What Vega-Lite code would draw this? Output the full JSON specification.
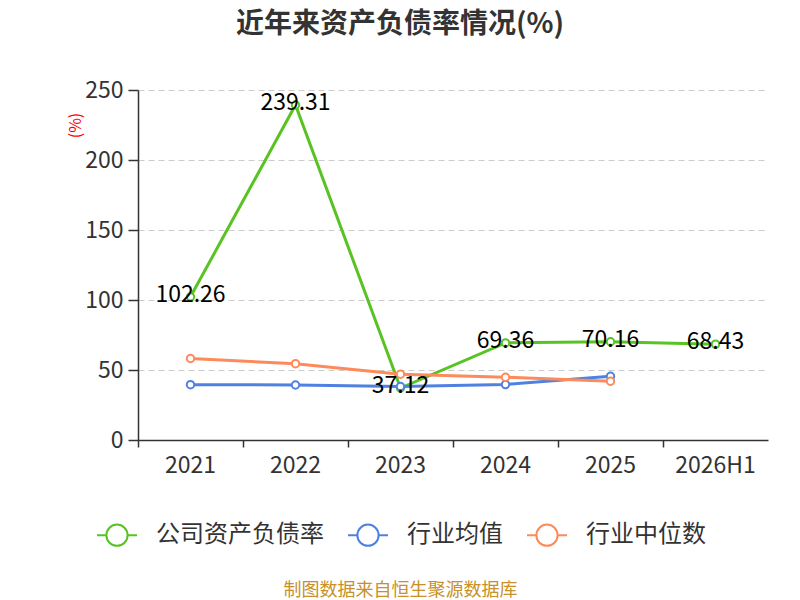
{
  "$schema": "https://vega.github.io/schema/vega-lite/v6.json",
  "width": 630,
  "height": 350,
  "autosize": {"type": "none"},
  "padding": {"left": 138, "top": 90, "right": 32, "bottom": 160},
  "config": {
    "font": "Noto Sans CJK SC",
    "view": {"stroke": null}
  },
  "title": {
    "text": "近年来资产负债率情况(%)",
    "fontSize": 28,
    "fontWeight": "bold",
    "color": "#333333",
    "anchor": "middle",
    "frame": "group",
    "dx": -53,
    "offset": 40
  },
  "data": {
    "values": [
      {"year": "2021", "series": "公司资产负债率", "value": 102.26},
      {"year": "2022", "series": "公司资产负债率", "value": 239.31},
      {"year": "2023", "series": "公司资产负债率", "value": 37.12},
      {"year": "2024", "series": "公司资产负债率", "value": 69.36},
      {"year": "2025", "series": "公司资产负债率", "value": 70.16},
      {"year": "2026H1", "series": "公司资产负债率", "value": 68.43},
      {"year": "2021", "series": "行业均值", "value": 39.5},
      {"year": "2022", "series": "行业均值", "value": 39.3},
      {"year": "2023", "series": "行业均值", "value": 38.2},
      {"year": "2024", "series": "行业均值", "value": 39.6},
      {"year": "2025", "series": "行业均值", "value": 45.5},
      {"year": "2021", "series": "行业中位数", "value": 58.2},
      {"year": "2022", "series": "行业中位数", "value": 54.5},
      {"year": "2023", "series": "行业中位数", "value": 47.0},
      {"year": "2024", "series": "行业中位数", "value": 44.8},
      {"year": "2025", "series": "行业中位数", "value": 42.0}
    ]
  },
  "encoding": {
    "x": {
      "field": "year",
      "type": "ordinal",
      "sort": null,
      "scale": {"type": "band", "paddingInner": 0, "paddingOuter": 0},
      "axis": {
        "bandPosition": 0,
        "labelAngle": 0,
        "labelFontSize": 23,
        "labelColor": "#333333",
        "labelPadding": 7,
        "domainColor": "#333333",
        "domainWidth": 1.5,
        "tickColor": "#333333",
        "tickSize": 7,
        "tickWidth": 1.5,
        "grid": false,
        "title": "制图数据来自恒生聚源数据库",
        "titleFontSize": 18,
        "titleFontWeight": "normal",
        "titleColor": "#c8902a",
        "titleX": 262,
        "titleY": 150,
        "titleAlign": "center",
        "titleBaseline": "middle"
      }
    },
    "y": {
      "field": "value",
      "type": "quantitative",
      "scale": {"domain": [0, 250], "nice": false},
      "axis": {
        "values": [0, 50, 100, 150, 200, 250],
        "labelFontSize": 23,
        "labelColor": "#333333",
        "labelPadding": 5,
        "domainColor": "#333333",
        "domainWidth": 1.5,
        "tickColor": "#333333",
        "tickSize": 10,
        "tickWidth": 1.5,
        "grid": true,
        "gridColor": "#cccccc",
        "gridDash": [6, 4],
        "gridWidth": 1.2,
        "title": "(%)",
        "titleColor": "#ff0000",
        "titleFontSize": 16,
        "titleFontWeight": "normal",
        "titleX": -63,
        "titleY": 35,
        "titleAlign": "center",
        "titleBaseline": "middle"
      }
    },
    "color": {
      "field": "series",
      "type": "nominal",
      "scale": {
        "domain": ["公司资产负债率", "行业均值", "行业中位数"],
        "range": ["#58c322", "#4f81e1", "#fd8a5a"]
      },
      "legend": {
        "title": null,
        "orient": "none",
        "direction": "horizontal",
        "legendX": -42,
        "legendY": 424,
        "labelFontSize": 24,
        "labelLimit": 400,
        "labelColor": "#333333",
        "symbolType": "M-1,0L-0.53,0M0.53,0L1,0M-0.53,0A0.53,0.53,0,1,1,0.53,0A0.53,0.53,0,1,1,-0.53,0",
        "symbolSize": 1600,
        "symbolStrokeWidth": 2,
        "symbolFillColor": "white",
        "labelOffset": 18,
        "columnPadding": 20
      }
    }
  },
  "layer": [
    {"mark": {"type": "line", "strokeWidth": 3}},
    {"mark": {"type": "point", "shape": "circle", "filled": false, "fill": "white", "fillOpacity": 1, "opacity": 1, "size": 55, "strokeWidth": 2}},
    {
      "transform": [{"filter": "datum.series === '公司资产负债率'"}],
      "mark": {"type": "text", "fontSize": 23, "baseline": "middle", "dy": -2},
      "encoding": {
        "text": {"field": "value", "type": "quantitative", "format": ".2f"},
        "color": {"value": "#000000"}
      }
    }
  ]
}
